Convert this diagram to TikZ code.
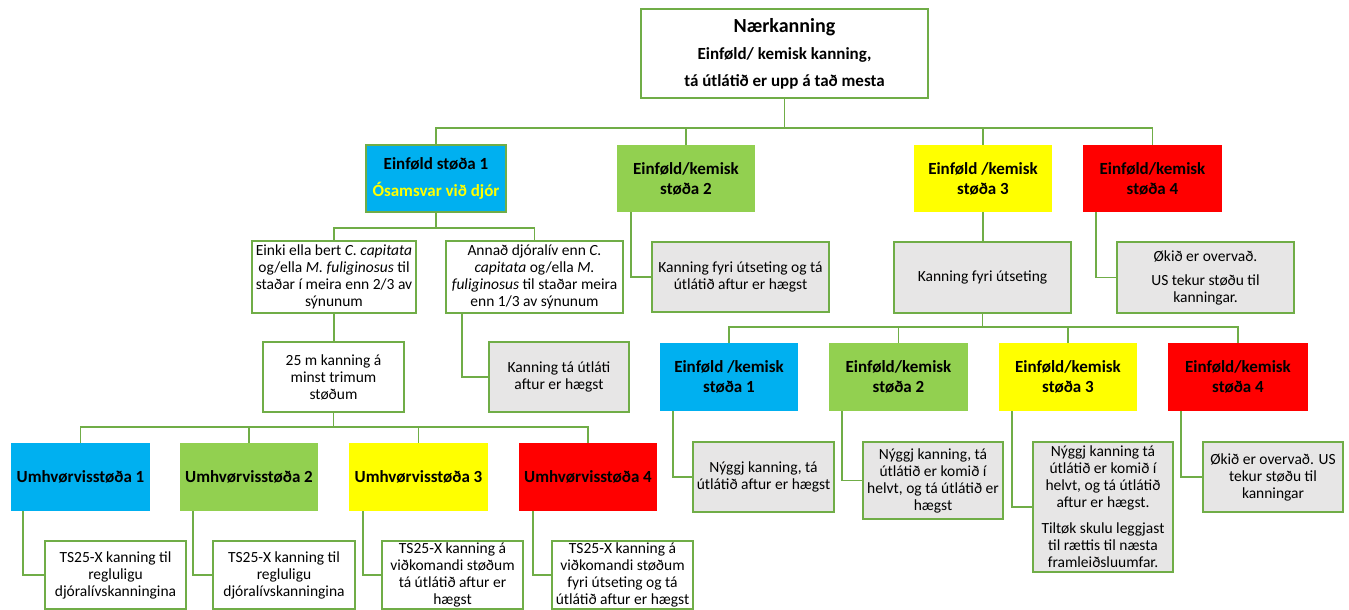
\documentclass[tikz,border=0pt]{standalone}
\usepackage{fontspec}
\setmainfont{Carlito}
\definecolor{lineg}{RGB}{112,173,71}
\definecolor{blueF}{RGB}{0,176,240}
\definecolor{greenF}{RGB}{146,208,80}
\definecolor{yellowF}{RGB}{255,255,0}
\definecolor{redF}{RGB}{255,0,0}
\definecolor{greyF}{RGB}{231,230,230}
\begin{document}
\begin{tikzpicture}[x=1pt,y=-1pt,
  boxbase/.style={inner sep=0pt, outer sep=0pt, align=center, text=black},
  wbox/.style={boxbase, draw=lineg, line width=1.5pt, fill=white,
    font=\fontsize{15.5}{17}\selectfont},
  gbox/.style={wbox, fill=greyF},
  cbox/.style={boxbase, font=\fontsize{17}{20}\selectfont\bfseries},
  conn/.style={draw=lineg, line width=1.5pt},
]
\useasboundingbox (0,0) rectangle (1349,610);

% bus levels
\coordinate (b1) at (0,128);
\coordinate (b2) at (0,228);
\coordinate (b3) at (0,327);
\coordinate (b4) at (0,427);

% root
\node[wbox, font=\fontsize{17}{27}\selectfont\bfseries, minimum width=287, minimum height=89]
  (top) at (784.5,53.5) {{\fontsize{20}{27}\selectfont Nærkanning}\\Einføld/ kemisk kanning,\\tá útlátið er upp á tað mesta};

% first level
\node[cbox, fill=blueF, draw=lineg, line width=1.5pt, minimum width=140, minimum height=67] (E1) at (436,178.5)
  {Einføld støða 1\\[7pt]\textcolor{yellowF}{Ósamsvar við djór}};
\node[cbox, fill=greenF, minimum width=138, minimum height=67] (E2) at (686,178.5) {Einføld/kemisk\\støða 2};
\node[cbox, fill=yellowF, minimum width=138, minimum height=67] (E3) at (983,178.5) {Einføld /kemisk\\støða 3};
\node[cbox, fill=redF, minimum width=139, minimum height=67] (E4) at (1152.5,178.5) {Einføld/kemisk\\støða 4};

% second level
\node[wbox, minimum width=164, minimum height=72] (A) at (334,277)
  {Einki ella bert \textit{C. capitata}\\og/ella \textit{M. fuliginosus} til\\staðar í meira enn 2/3 av\\sýnunum};
\node[wbox, minimum width=177, minimum height=72] (B) at (534.5,277)
  {Annað djóralív enn \textit{C.}\\\textit{capitata} og/ella \textit{M.}\\\textit{fuliginosus} til staðar meira\\enn 1/3 av sýnunum};
\node[gbox, minimum width=177, minimum height=70] (F) at (740.5,277)
  {Kanning fyri útseting og tá\\útlátið aftur er hægst};
\node[gbox, minimum width=177, minimum height=71] (G) at (982.5,277.5) {Kanning fyri útseting};
\node[gbox, minimum width=177, minimum height=71] (H) at (1205.5,277.5)
  {Økið er overvað.\\[7pt]US tekur støðu til\\kanningar.};

% third level
\node[wbox, minimum width=141, minimum height=70] (C) at (333.5,377) {25 m kanning á\\minst trimum\\støðum};
\node[gbox, minimum width=140, minimum height=70] (D) at (559,377) {Kanning tá útláti\\aftur er hægst};

\node[cbox, fill=blueF, minimum width=138, minimum height=68] (R1) at (729,377) {Einføld /kemisk\\støða 1};
\node[cbox, fill=greenF, minimum width=139, minimum height=68] (R2) at (898.5,377) {Einføld/kemisk\\støða 2};
\node[cbox, fill=yellowF, minimum width=138, minimum height=68] (R3) at (1068,377) {Einføld/kemisk\\støða 3};
\node[cbox, fill=redF, minimum width=140, minimum height=68] (R4) at (1238,377) {Einføld/kemisk\\støða 4};

\node[gbox, minimum width=141, minimum height=70] (S1) at (763.5,477) {Nýggj kanning, tá\\útlátið aftur er hægst};
\node[gbox, minimum width=140, minimum height=77] (S2) at (933,480.5)
  {Nýggj kanning, tá\\útlátið er komið í\\helvt, og tá útlátið er\\hægst};
\node[gbox, minimum width=140, minimum height=130] (S3) at (1103,507)
  {Nýggj kanning tá\\útlátið er komið í\\helvt, og tá útlátið\\aftur er hægst.\\[9pt]Tiltøk skulu leggjast\\til rættis til næsta\\framleiðsluumfar.};
\node[gbox, minimum width=140, minimum height=70] (S4) at (1273,477)
  {Økið er overvað. US\\tekur støðu til\\kanningar};

% environment states
\node[cbox, fill=blueF, minimum width=139, minimum height=68] (U1) at (80.5,477) {Umhvørvisstøða 1};
\node[cbox, fill=greenF, minimum width=138, minimum height=68] (U2) at (249,477) {Umhvørvisstøða 2};
\node[cbox, fill=yellowF, minimum width=139, minimum height=68] (U3) at (418.5,477) {Umhvørvisstøða 3};
\node[cbox, fill=redF, minimum width=138, minimum height=68] (U4) at (588,477) {Umhvørvisstøða 4};

\node[wbox, minimum width=141, minimum height=68] (V1) at (115.5,575)
  {TS25-X kanning til\\regluligu\\djóralívskanningina};
\node[wbox, minimum width=142, minimum height=68] (V2) at (284,575)
  {TS25-X kanning til\\regluligu\\djóralívskanningina};
\node[wbox, minimum width=141, minimum height=68] (V3) at (452.5,575)
  {TS25-X kanning á\\viðkomandi støðum\\tá útlátið aftur er\\hægst};
\node[wbox, minimum width=141, minimum height=68] (V4) at (622.5,575)
  {TS25-X kanning á\\viðkomandi støðum\\fyri útseting og tá\\útlátið aftur er hægst};

% connectors
\draw[conn] (top.south) -- (top.south |- b1);
\foreach \n in {E1,E2,E3,E4} \draw[conn] (top.south |- b1) -| (\n.north);

\draw[conn] (E1.south) -- (E1.south |- b2);
\foreach \n in {A,B} \draw[conn] (E1.south |- b2) -| (\n.north);
\draw[conn] (A.south) -- (A.south |- C.north);
\draw[conn] ([xshift=-72.5pt]B.south) |- (D.west);
\draw[conn] ([xshift=-55pt]E2.south) |- (F.west);
\draw[conn] (E3.south) -- (E3.south |- G.north);
\draw[conn] ([xshift=-56.5pt]E4.south) |- (H.west);

\draw[conn] (G.south) -- (G.south |- b3);
\foreach \n in {R1,R2,R3,R4} \draw[conn] (G.south |- b3) -| (\n.north);
\draw[conn] ([xshift=-56pt]R1.south) |- (S1.west);
\draw[conn] ([xshift=-56.5pt]R2.south) |- (S2.west);
\draw[conn] ([xshift=-56pt]R3.south) |- (S3.west);
\draw[conn] ([xshift=-57pt]R4.south) |- (S4.west);

\draw[conn] (C.south) -- (C.south |- b4);
\foreach \n in {U1,U2,U3,U4} \draw[conn] (C.south |- b4) -| (\n.north);
\draw[conn] ([xshift=-57.5pt]U1.south) |- (V1.west);
\draw[conn] ([xshift=-56pt]U2.south) |- (V2.west);
\draw[conn] ([xshift=-55.5pt]U3.south) |- (V3.west);
\draw[conn] ([xshift=-55pt]U4.south) |- (V4.west);
\end{tikzpicture}
\end{document}
